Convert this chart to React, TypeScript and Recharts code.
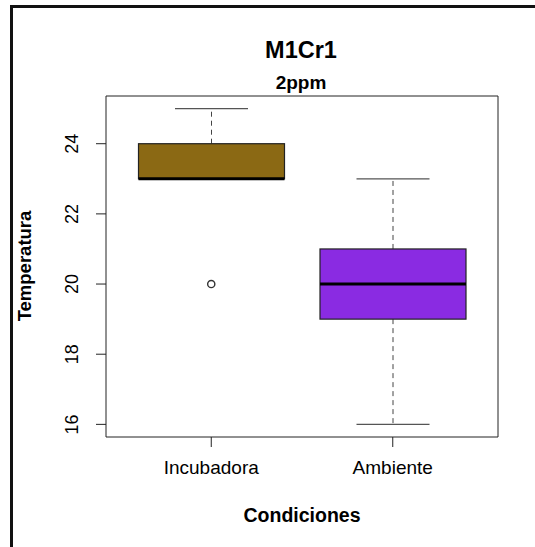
import { ComposedChart, Bar, Scatter, XAxis, YAxis } from "recharts";

const categories = ["Incubadora", "Ambiente"];
const whiskerLow = [23, 16];
const q1 = [23, 19];
const median = [23, 20];
const q3 = [24, 21];
const whiskerHigh = [25, 23];
const outliers: (number | null)[] = [20, null];
const fills = ["#8B6914", "#8A2BE2"];
const yTicks = [16, 18, 20, 22, 24];
const yDomain = [15.64, 25.36];

const data = categories.map((name, i) => ({
  name,
  range: [whiskerLow[i], whiskerHigh[i]],
  q1: q1[i],
  median: median[i],
  q3: q3[i],
  outlier: outliers[i],
  fill: fills[i],
}));

const FONT = "'Liberation Sans', Arial, Helvetica, sans-serif";

function BoxShape(props: any) {
  const { x, y, width, height, payload } = props;
  const top = Math.min(y, y + height);
  const h = Math.abs(height);
  const [lo, hi] = payload.range;
  const k = h / (hi - lo);
  const py = (v: number) => top + (hi - v) * k;
  const cx = x + width / 2;
  const cap = width / 4;
  return (
    <g>
      {hi > payload.q3 && (
        <line x1={cx} x2={cx} y1={py(payload.q3)} y2={py(hi)} stroke="#444" strokeDasharray="5 4" />
      )}
      {lo < payload.q1 && (
        <line x1={cx} x2={cx} y1={py(payload.q1)} y2={py(lo)} stroke="#444" strokeDasharray="5 4" />
      )}
      <line x1={cx - cap} x2={cx + cap} y1={py(hi)} y2={py(hi)} stroke="#555" strokeWidth={1.2} />
      <line x1={cx - cap} x2={cx + cap} y1={py(lo)} y2={py(lo)} stroke="#555" strokeWidth={1.2} />
      <rect
        x={x}
        y={py(payload.q3)}
        width={width}
        height={py(payload.q1) - py(payload.q3)}
        fill={payload.fill}
        stroke="#222"
        strokeWidth={1.2}
      />
      <line x1={x} x2={x + width} y1={py(payload.median)} y2={py(payload.median)} stroke="#000" strokeWidth={3} />
    </g>
  );
}

function OutlierShape(props: any) {
  const { cx, cy, payload } = props;
  if (payload == null || payload.outlier == null) return null;
  return <circle cx={cx} cy={cy} r={3.6} fill="#fff" stroke="#333" strokeWidth={1.4} />;
}

function YTick(props: any) {
  const { x, y, payload } = props;
  return (
    <text
      x={x}
      y={y}
      transform={`rotate(-90, ${x}, ${y})`}
      textAnchor="middle"
      fontFamily={FONT}
      fontSize={18}
      fill="#000"
    >
      {payload.value}
    </text>
  );
}

function XTick(props: any) {
  const { x, y, payload } = props;
  return (
    <text x={x} y={y + 27} textAnchor="middle" fontFamily={FONT} fontSize={19} fill="#000">
      {payload.value}
    </text>
  );
}

export default function App() {
  return (
    <div style={{ position: "absolute", left: 0, top: 0, width: 535, height: 547, background: "#fff" }}>
      <div
        style={{
          position: "absolute",
          left: 10,
          top: 5,
          right: 0,
          bottom: 0,
          borderTop: "3px solid #111",
          borderLeft: "3px solid #111",
        }}
      />
      <div style={{ position: "absolute", left: 0, top: 0 }}>
        <ComposedChart
          width={535}
          height={547}
          data={data}
          margin={{ top: 95, right: 36, bottom: 70, left: 46 }}
          barSize={146}
        >
          <XAxis
            dataKey="name"
            type="category"
            padding={{ left: 14.5, right: 14.5 }}
            height={40}
            tickSize={10}
            tickMargin={0}
            stroke="#222"
            tick={<XTick />}
            interval={0}
          />
          <XAxis
            xAxisId="top"
            dataKey="name"
            type="category"
            orientation="top"
            height={1}
            tick={false}
            tickLine={false}
            stroke="#222"
          />
          <YAxis
            type="number"
            domain={yDomain}
            ticks={yTicks}
            allowDataOverflow
            width={60}
            tickSize={10}
            tickMargin={18}
            stroke="#222"
            tick={<YTick />}
          />
          <YAxis
            yAxisId="right"
            orientation="right"
            type="number"
            domain={yDomain}
            allowDataOverflow
            width={1}
            tick={false}
            tickLine={false}
            stroke="#222"
          />
          <Bar dataKey="range" shape={<BoxShape />} isAnimationActive={false} />
          <Scatter dataKey="outlier" shape={<OutlierShape />} isAnimationActive={false} />
          <Scatter
            xAxisId="top"
            yAxisId="right"
            dataKey="outlier"
            shape={() => null}
            legendType="none"
            isAnimationActive={false}
          />
        </ComposedChart>
      </div>
      <svg width={535} height={547} style={{ position: "absolute", left: 0, top: 0, pointerEvents: "none" }}>
        <text x={301} y={58} textAnchor="middle" fontFamily={FONT} fontWeight="bold" fontSize={23.5}>
          M1Cr1
        </text>
        <text x={301} y={89} textAnchor="middle" fontFamily={FONT} fontWeight="bold" fontSize={19}>
          2ppm
        </text>
        <text x={302} y={522} textAnchor="middle" fontFamily={FONT} fontWeight="bold" fontSize={19.5}>
          Condiciones
        </text>
        <text
          x={31}
          y={266}
          transform="rotate(-90, 31, 266)"
          textAnchor="middle"
          fontFamily={FONT}
          fontWeight="bold"
          fontSize={18.5}
        >
          Temperatura
        </text>
      </svg>
    </div>
  );
}
